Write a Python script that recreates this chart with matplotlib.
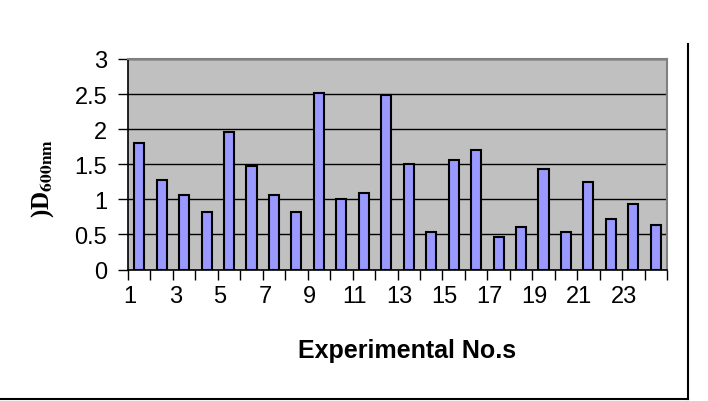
import numpy as np
import matplotlib
matplotlib.use("Agg")
import matplotlib.pyplot as plt
from matplotlib.lines import Line2D

experiments = list(range(1, 25))
od600 = [1.80, 1.28, 1.06, 0.82, 1.96, 1.47, 1.06, 0.82, 2.51, 1.00, 1.09, 2.48,
         1.50, 0.54, 1.56, 1.71, 0.47, 0.60, 1.43, 0.54, 1.25, 0.72, 0.94, 0.63]
label_nums = list(range(1, 24, 2))
y_ticks = [0, 0.5, 1, 1.5, 2, 2.5, 3]

plt.rcParams.update({"font.family": ["Liberation Sans", "DejaVu Sans"],
                     "mathtext.fontset": "stix"})

fig = plt.figure(figsize=(7.08, 4.02), dpi=100)
ax = fig.add_axes([128 / 708, 1 - 270.5 / 402, (667 - 128) / 708, (270.5 - 60) / 402])
ax.set_facecolor("#C0C0C0")

x = np.arange(len(od600))
ax.bar(x, od600, width=0.45, color="#9999FF", edgecolor="black", linewidth=1.5, zorder=3)

ax.set_xlim(-0.5, len(od600) - 0.5)
ax.set_ylim(0, 3)
ax.set_yticks(y_ticks)
ax.set_yticklabels([f"{v:g}" for v in y_ticks], fontsize=17)
ax.yaxis.grid(True, color="black", linewidth=1.0, zorder=1)
ax.tick_params(axis="y", length=7, width=1, pad=8)

# labels on odd experiments, tick marks between categories
ax.set_xticks([n - 1 - 0.4 for n in label_nums])
ax.set_xticklabels([str(n) for n in label_nums], fontsize=17)
ax.tick_params(axis="x", which="major", length=0, pad=11)
ax.set_xticks(np.arange(len(od600) + 1) - 0.5, minor=True)
ax.tick_params(axis="x", which="minor", length=7, width=1, direction="out")

for s in ["left", "bottom"]:
    ax.spines[s].set_color("black")
    ax.spines[s].set_linewidth(1.2)
for s in ["top", "right"]:
    ax.spines[s].set_color("#808080")
    ax.spines[s].set_linewidth(1.5)
ax.set_axisbelow(True)

fig.text(407 / 708, 1 - 358 / 402, "Experimental No.s", fontsize=18, fontweight="bold",
         ha="center", va="baseline")
fig.text(43 / 708, 1 - 179 / 402, r")D$_{\mathbf{600nm}}$", rotation=90,
         fontsize=18, fontweight="bold", family="Liberation Serif",
         ha="center", va="center")

# frame lines of the original chart box
fig.add_artist(Line2D([688 / 708, 688 / 708], [1 - 45 / 402, 1 - 400 / 402],
                      transform=fig.transFigure, color="black", linewidth=1.5))
fig.add_artist(Line2D([0, 688 / 708], [1 - 400 / 402, 1 - 400 / 402],
                      transform=fig.transFigure, color="black", linewidth=1.5))

fig.savefig("out.png", dpi=100)
